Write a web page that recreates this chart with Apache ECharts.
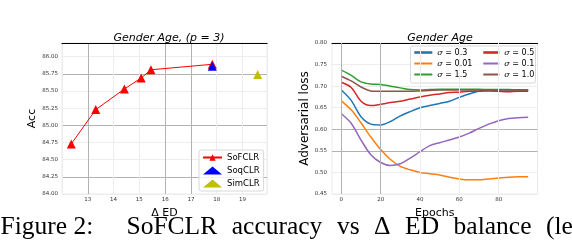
<!DOCTYPE html>
<html><head><meta charset="utf-8">
<script src="https://cdn.jsdelivr.net/npm/echarts@6/dist/echarts.min.js"></script>
<style>html,body{margin:0;padding:0;background:#fff;overflow:hidden}#c{width:572px;height:250px}</style>
</head><body><div id="c"></div>
<script>
// ---- Left panel data (Gender Age, p = 3) ----
const sofclrX = [12.36, 13.31, 14.42, 15.07, 15.45, 17.83];
const sofclrY = [84.73, 85.23, 85.53, 85.69, 85.81, 85.89];
const soqclrX = [17.83];
const soqclrY = [85.86];
const simclrX = [19.59];
const simclrY = [85.74];
const leftXTicks = [13, 14, 15, 16, 17, 18, 19];

// ---- Right panel data (Adversarial loss vs Epochs) ----
const epochs = [0,5,10,15,20,25,30,35,40,45,50,55,60,65,70,75,80,85,90,95];
const sig03  = [0.691,0.667,0.629,0.612,0.610,0.618,0.631,0.641,0.650,0.655,0.660,0.665,0.674,0.682,0.688,0.690,0.691,0.691,0.691,0.691];
const sig001 = [0.666,0.645,0.615,0.582,0.553,0.530,0.514,0.506,0.500,0.497,0.494,0.489,0.485,0.483,0.483,0.485,0.487,0.489,0.490,0.490];
const sig15  = [0.737,0.725,0.710,0.705,0.704,0.700,0.696,0.692,0.691,0.692,0.693,0.693,0.693,0.693,0.693,0.692,0.692,0.692,0.691,0.691];
const sig05  = [0.709,0.697,0.665,0.655,0.658,0.662,0.665,0.670,0.675,0.679,0.682,0.685,0.686,0.688,0.688,0.689,0.688,0.687,0.688,0.688];
const sig01  = [0.636,0.614,0.575,0.541,0.523,0.516,0.520,0.533,0.548,0.562,0.569,0.575,0.582,0.591,0.602,0.612,0.620,0.625,0.627,0.628];
const sig10  = [0.723,0.712,0.698,0.689,0.688,0.688,0.688,0.688,0.689,0.690,0.691,0.691,0.691,0.691,0.691,0.691,0.691,0.691,0.691,0.691];
const rightXTicks = [0, 20, 40, 60, 80];

// ---- Caption ----
const captionLead = 'Figure 2:';
const captionWords = ['SoFCLR', 'accuracy', 'vs', 'Δ', 'ED', 'balance', '(left)', 'and'];

const zip = (a, b) => a.map((v, i) => [v, b[i]]);
const FNT = 'DejaVu Sans';
const F = '#ededed', D = '#b2b2b2';

const chart = echarts.init(document.getElementById('c'), null, {renderer: 'canvas'});
const isMult = (v, s) => Math.abs(v / s - Math.round(v / s)) < 1e-6;
const tickLbl = {fontFamily: FNT, fontSize: 5.5, color: '#333'};

const rightSeries = [
  ['σ = 0.3', sig03, '#1f77b4'],
  ['σ = 0.01', sig001, '#ff7f0e'],
  ['σ = 1.5', sig15, '#2ca02c'],
  ['σ = 0.5', sig05, '#d62728'],
  ['σ = 0.1', sig01, '#9467bd'],
  ['σ = 1.0', sig10, '#8c564b']
];

const legRich = {i: {fontStyle: 'italic', fontFamily: 'DejaVu Serif', fontSize: 8}};
const legFmt = n => '{i|σ}' + n.slice(1);
const noSym = {color: 'rgba(0,0,0,0)', borderWidth: 0, borderColor: 'rgba(0,0,0,0)'};

// justified caption layout (text layout only)
const CAP_FONT = '25.5px "Liberation Serif"';
const mctx = document.createElement('canvas').getContext('2d');
mctx.font = CAP_FONT;
const wWidths = captionWords.map(w => mctx.measureText(w).width);
const capStart = 126.5, capParen = 546;
const capGap = (capParen - capStart - wWidths.slice(0, 6).reduce((a, b) => a + b, 0)) / 6;
const capGraphics = [{type: 'text', x: 0.5, y: 227, z: 10,
  style: {text: captionLead, font: CAP_FONT, fill: '#000', verticalAlign: 'middle'}}];
let cx = capStart;
captionWords.forEach((w, i) => {
  capGraphics.push({type: 'text', x: cx, y: 227, z: 10,
    style: {text: w, font: CAP_FONT, fill: '#000', verticalAlign: 'middle'}});
  cx += wWidths[i] + capGap;
});

chart.setOption({
  animation: false,
  backgroundColor: '#fff',
  title: [
    {text: 'Gender Age, (p = 3)', left: 164, top: 28, textAlign: 'center',
     textStyle: {fontFamily: FNT, fontSize: 11, fontStyle: 'italic', fontWeight: 'normal', color: '#000'}},
    {text: 'Gender Age', left: 435, top: 28, textAlign: 'center',
     textStyle: {fontFamily: FNT, fontSize: 11, fontStyle: 'italic', fontWeight: 'normal', color: '#000'}}
  ],
  grid: [
    {left: 62, top: 43, width: 205, height: 151, show: true, borderColor: '#ebebeb', borderWidth: 1, backgroundColor: 'transparent'},
    {left: 332, top: 43, width: 205.5, height: 151, show: true, borderColor: '#ebebeb', borderWidth: 1, backgroundColor: 'transparent'}
  ],
  xAxis: [
    {type: 'value', gridIndex: 0, min: 12, max: 19.95, interval: 1,
     name: 'Δ ED', nameLocation: 'middle', nameGap: 12,
     nameTextStyle: {fontFamily: FNT, fontSize: 11, color: '#000'},
     axisLine: {show: false}, axisTick: {show: false},
     axisLabel: Object.assign({margin: 3, formatter: v => leftXTicks.includes(Math.round(v)) && isMult(v, 1) ? String(Math.round(v)) : ''}, tickLbl),
     splitLine: {show: true, lineStyle: {width: 1, color: [F, D, F, F, D, D, F, F, F]}}},
    {type: 'value', gridIndex: 0, position: 'top', min: 0, max: 1,
     axisLine: {show: true, lineStyle: {color: '#000', width: 1.2}}, axisTick: {show: false}, axisLabel: {show: false}, splitLine: {show: false}},
    {type: 'value', gridIndex: 1, min: -4.75, max: 99.75,
     name: 'Epochs', nameLocation: 'middle', nameGap: 12,
     nameTextStyle: {fontFamily: FNT, fontSize: 11, color: '#000'},
     axisLine: {show: false}, axisTick: {show: false},
     axisLabel: Object.assign({margin: 3, customValues: rightXTicks, formatter: v => String(v)}, tickLbl),
     splitLine: {show: false}},
    {type: 'value', gridIndex: 1, position: 'top', min: 0, max: 1,
     axisLine: {show: true, lineStyle: {color: '#000', width: 1.2}}, axisTick: {show: false}, axisLabel: {show: false}, splitLine: {show: false}}
  ],
  yAxis: [
    {type: 'value', gridIndex: 0, min: 84, max: 86.2, interval: 0.25,
     name: 'Acc', nameLocation: 'middle', nameGap: 24,
     nameTextStyle: {fontFamily: FNT, fontSize: 11, color: '#000'},
     axisLine: {show: false}, axisTick: {show: false},
     axisLabel: Object.assign({margin: 4, formatter: v => isMult(v, 0.25) ? v.toFixed(2) : ''}, tickLbl),
     splitLine: {show: true, lineStyle: {width: 1, color: [F, D, F]}}},
    {type: 'value', gridIndex: 1, min: 0.45, max: 0.8, interval: 0.05,
     name: 'Adversarial loss', nameLocation: 'middle', nameGap: 18,
     nameTextStyle: {fontFamily: FNT, fontSize: 12, color: '#000'},
     axisLine: {show: false}, axisTick: {show: false},
     axisLabel: Object.assign({margin: 5, formatter: v => v.toFixed(2)}, tickLbl),
     splitLine: {show: true, lineStyle: {width: 1, color: [F, F, D, D, F, F, F, F]}}}
  ],
  legend: [
    {orient: 'vertical', left: 199, top: 150, itemWidth: 19, itemHeight: 8, itemGap: 4,
     padding: [3, 4, 3, 3], backgroundColor: 'rgba(255,255,255,0.8)', borderColor: '#d8d8d8', borderWidth: 1, borderRadius: 2,
     textStyle: {fontFamily: FNT, fontSize: 8.5, color: '#000'},
     data: ['SoFCLR', 'SoqCLR', 'SimCLR']},
    {orient: 'vertical', left: 413, top: 48.5, itemWidth: 18, itemHeight: 8, itemGap: 3, padding: 0,
     itemStyle: noSym,
     textStyle: {fontFamily: FNT, fontSize: 8, color: '#000', rich: legRich}, formatter: legFmt,
     data: [{name: 'σ = 0.3', lineStyle: {width: 2.6}}, 'σ = 0.01', 'σ = 1.5']},
    {orient: 'vertical', left: 482, top: 48.5, itemWidth: 16, itemHeight: 8, itemGap: 3, padding: 0,
     itemStyle: noSym,
     textStyle: {fontFamily: FNT, fontSize: 8, color: '#000', rich: legRich}, formatter: legFmt,
     data: [{name: 'σ = 0.5', lineStyle: {width: 2.6}}, 'σ = 0.1', 'σ = 1.0']}
  ],
  graphic: [
    {type: 'rect', left: 410, top: 45.5, shape: {width: 125, height: 37, r: 2}, z: 3,
     style: {fill: 'rgba(255,255,255,0.8)', stroke: '#d8d8d8', lineWidth: 1}}
  ].concat(capGraphics),
  series: [
    {name: 'SoFCLR', type: 'line', xAxisIndex: 0, yAxisIndex: 0, data: zip(sofclrX, sofclrY),
     symbol: 'triangle', symbolSize: 9, itemStyle: {color: '#ff0000', borderWidth: 0},
     lineStyle: {color: '#ff0000', width: 1}, z: 3},
    {name: 'SoqCLR', type: 'scatter', xAxisIndex: 0, yAxisIndex: 0, data: zip(soqclrX, soqclrY),
     symbol: 'triangle', symbolSize: 9, itemStyle: {color: '#0000ff', opacity: 1}, z: 3},
    {name: 'SimCLR', type: 'scatter', xAxisIndex: 0, yAxisIndex: 0, data: zip(simclrX, simclrY),
     symbol: 'triangle', symbolSize: 9, itemStyle: {color: '#bfbf00', opacity: 1}, z: 3},
    {name: 'vgrid', type: 'line', xAxisIndex: 2, yAxisIndex: 1, data: [], z: 1, silent: true,
     markLine: {silent: true, symbol: 'none', label: {show: false}, animation: false,
       data: rightXTicks.map((v, i) => ({xAxis: v, lineStyle: {color: i < 2 ? D : F, width: 1, type: 'solid'}}))}}
  ].concat(rightSeries.map(([n, d, c]) => ({
    name: n, type: 'line', xAxisIndex: 2, yAxisIndex: 1, data: zip(epochs, d),
    symbol: 'none', smooth: 0.3, lineStyle: {color: c, width: 1.5}, itemStyle: {color: c}, z: 2
  })))
});
</script></body></html>
